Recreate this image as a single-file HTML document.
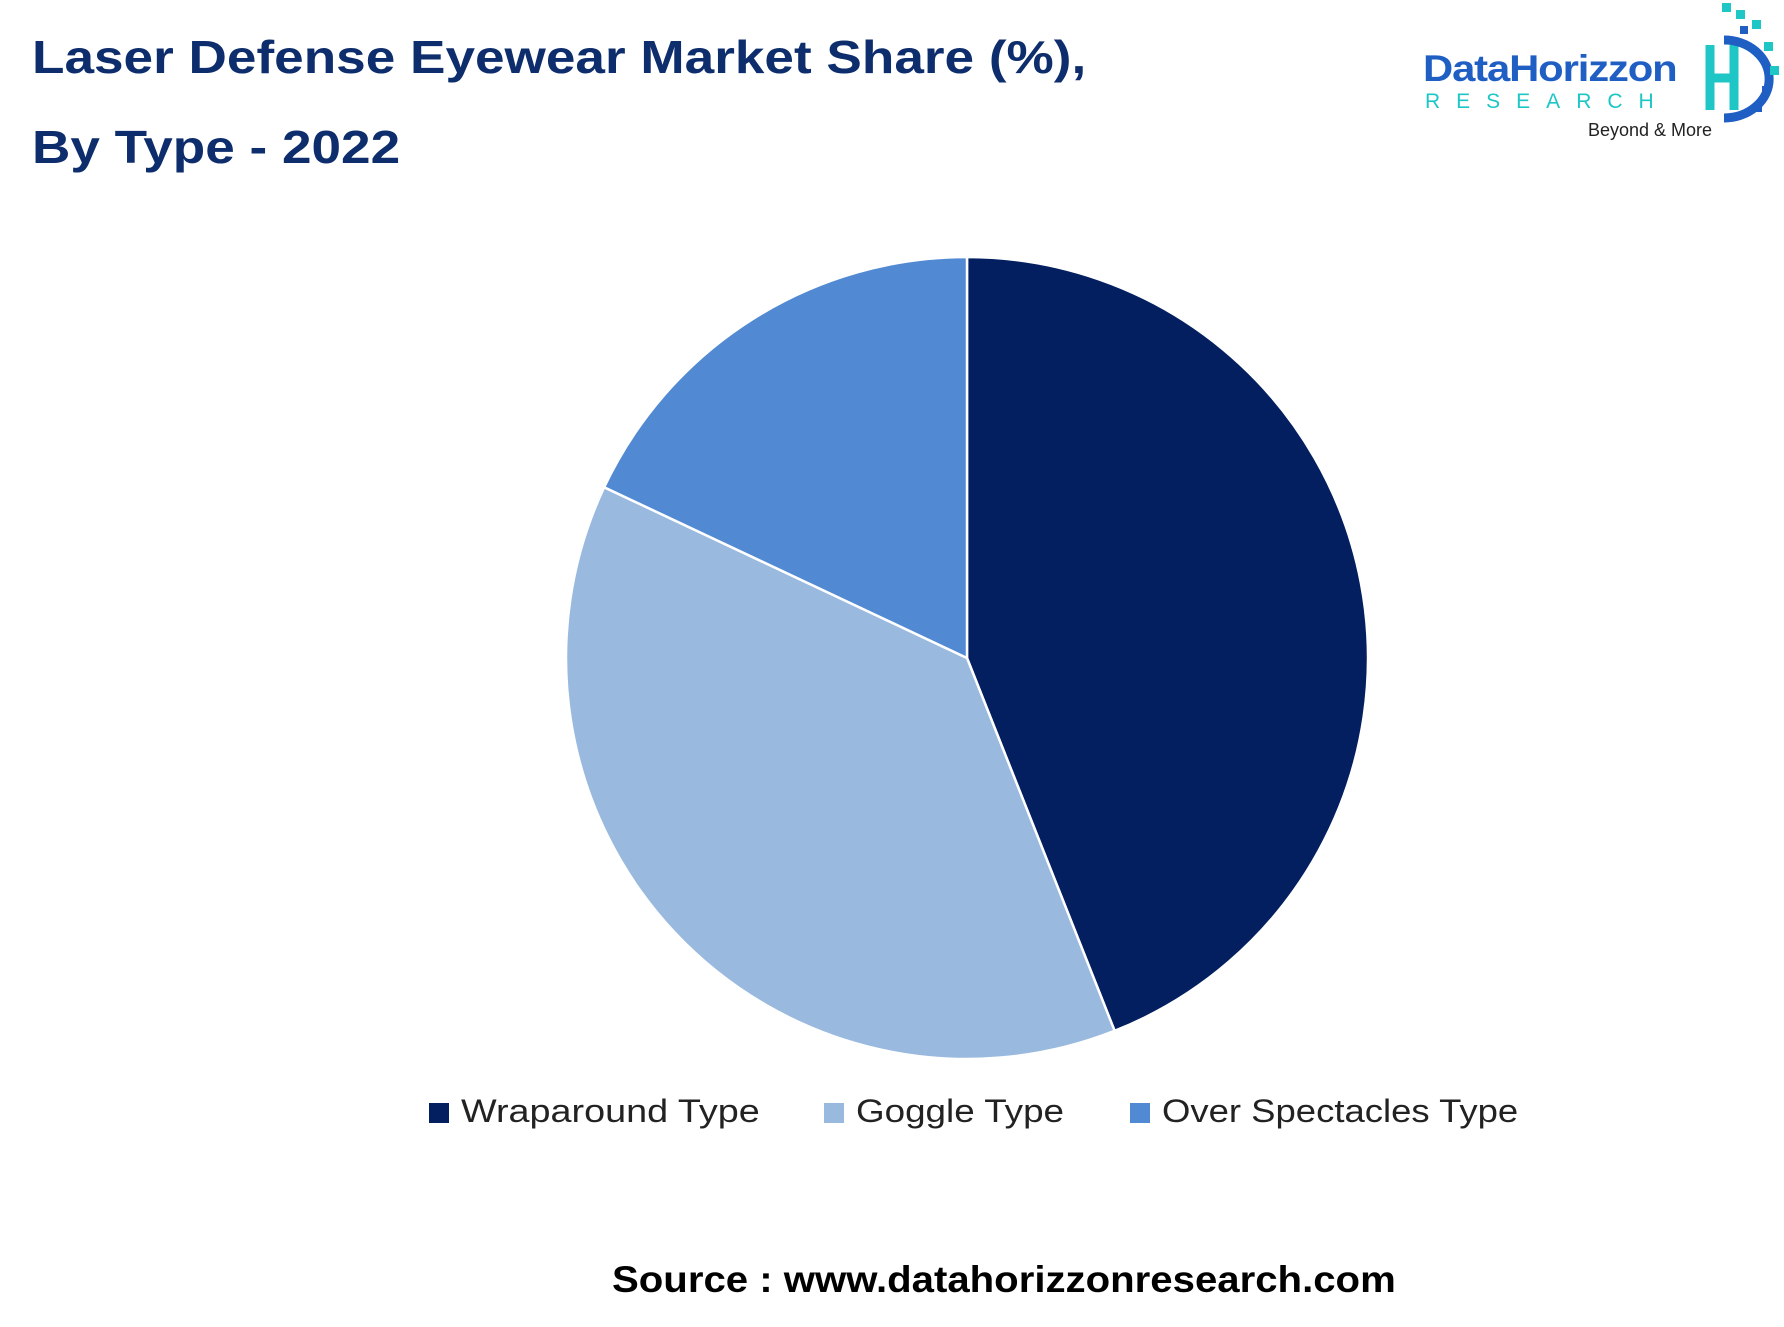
<!DOCTYPE html>
<html><head><meta charset="utf-8"><style>
body{margin:0;background:#fff;}
#wrap{position:relative;width:1784px;height:1327px;overflow:hidden;font-family:"Liberation Sans",sans-serif;}
.t{position:absolute;white-space:nowrap;transform-origin:0 0;}
</style></head><body>
<div id="wrap">
<div class="t" style="left:32px;top:30px;font-size:46px;font-weight:bold;color:#0d2d6c;transform:scaleX(1.155);">Laser Defense Eyewear Market Share (%),</div>
<div class="t" style="left:32px;top:120px;font-size:46px;font-weight:bold;color:#0d2d6c;transform:scaleX(1.155);">By Type - 2022</div>
<div style="position:absolute;left:1420px;top:0;width:364px;height:150px;">
<div class="t" style="left:3px;top:48px;font-size:37px;font-weight:bold;color:#1f5fc4;letter-spacing:-1px;transform:scaleX(1.13);">DataHorizzon</div>
<div class="t" style="left:5px;top:90px;font-size:21px;color:#1ec6c6;letter-spacing:16px;">RESEARCH</div>
<div class="t" style="left:168px;top:120px;font-size:18px;color:#222;">Beyond &amp; More</div>
<svg style="position:absolute;left:250px;top:0" width="114" height="130">
<path d="M40 45 L40 110 M40 78 L64 78 M64 45 L64 110" stroke="#1ec6c6" stroke-width="9" fill="none"/>
<path d="M54 40 A44 38 0 0 1 54 118" stroke="#1f5fc4" stroke-width="9" fill="none"/>
<g fill="#1ec6c6"><rect x="52" y="3" width="9" height="9"/><rect x="66" y="10" width="9" height="9"/><rect x="82" y="20" width="9" height="9"/><rect x="94" y="42" width="9" height="9"/><rect x="100" y="66" width="9" height="9"/></g>
<g fill="#1f5fc4"><rect x="70" y="26" width="8" height="8"/><rect x="92" y="86" width="8" height="8"/><rect x="84" y="104" width="8" height="8"/></g>
</svg>
</div>
<svg id="pie" width="1784" height="1327" style="position:absolute;left:0;top:0"></svg>
<div>
<div><div class="t" style="left:429px;top:1103px;width:20px;height:20px;background:#031f60"></div><div class="t" style="left:461px;top:1093px;font-size:32px;color:#222;transform:scaleX(1.18);">Wraparound Type</div></div>
<div><div class="t" style="left:824px;top:1103px;width:20px;height:20px;background:#99b9df"></div><div class="t" style="left:856px;top:1093px;font-size:32px;color:#222;transform:scaleX(1.15);">Goggle Type</div></div>
<div><div class="t" style="left:1130px;top:1103px;width:20px;height:20px;background:#5289d3"></div><div class="t" style="left:1162px;top:1093px;font-size:32px;color:#222;transform:scaleX(1.14);">Over Spectacles Type</div></div>
</div>
<div class="t" style="left:612px;top:1259px;font-size:37px;font-weight:bold;color:#000;transform:scaleX(1.085);">Source : www.datahorizzonresearch.com</div>
</div>
<script>
const categories=["Wraparound Type","Goggle Type","Over Spectacles Type"];
const shares=[44,38,18];
const colors=["#031f60","#99b9df","#5289d3"];
const svg=document.getElementById('pie');
const cx=967,cy=658,r=401;
const total=shares.reduce((a,b)=>a+b,0);
let a0=0;
shares.forEach((v,i)=>{
  const a1=a0+v/total*2*Math.PI;
  const x0=cx+r*Math.sin(a0),y0=cy-r*Math.cos(a0),x1=cx+r*Math.sin(a1),y1=cy-r*Math.cos(a1);
  const p=document.createElementNS('http://www.w3.org/2000/svg','path');
  p.setAttribute('d',`M${cx} ${cy} L${x0} ${y0} A${r} ${r} 0 ${a1-a0>Math.PI?1:0} 1 ${x1} ${y1} Z`);
  p.setAttribute('fill',colors[i]);p.setAttribute('stroke','#fff');p.setAttribute('stroke-width','2.5');
  
  
  svg.appendChild(p);a0=a1;
});
</script>
</body></html>
